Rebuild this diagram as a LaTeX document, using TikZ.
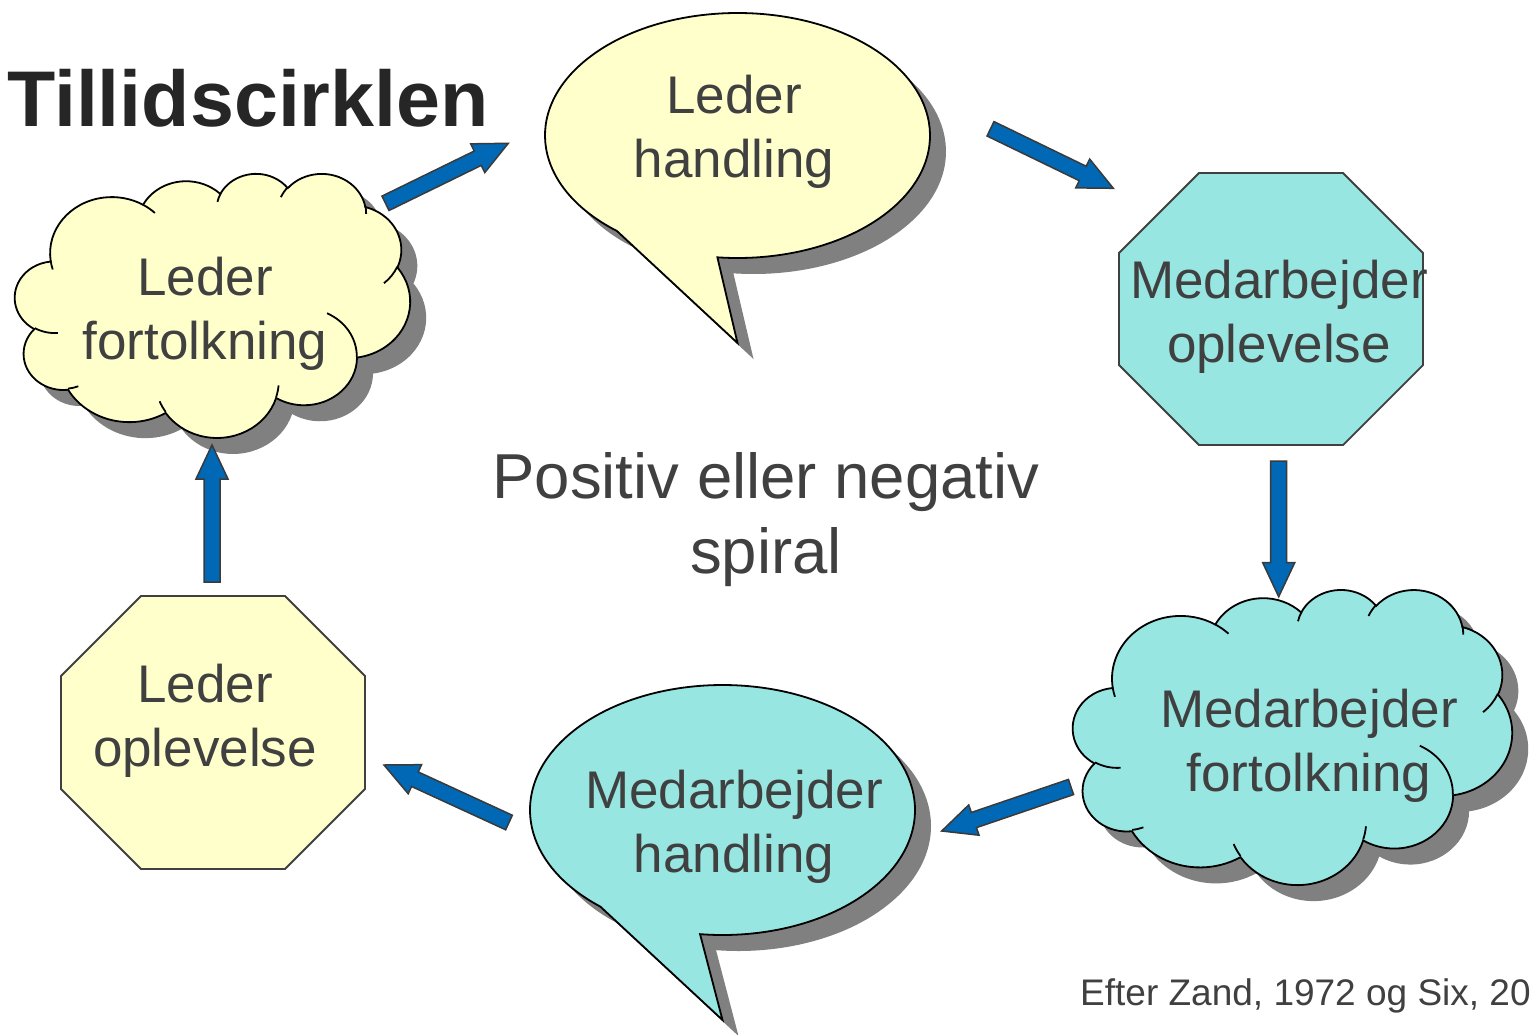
\documentclass[tikz,border=0pt]{standalone}
\usepackage{fontspec}
\setmainfont{Liberation Sans}
\usetikzlibrary{calc}
\definecolor{lyellow}{HTML}{FFFFCC}
\definecolor{lcyan}{HTML}{97E6E2}
\definecolor{shadowgray}{HTML}{808080}
\definecolor{arrowblue}{HTML}{0068B4}
\definecolor{arrowedge}{HTML}{3A3A3A}
\definecolor{txtgray}{HTML}{404040}
\definecolor{titlegray}{HTML}{262626}
\definecolor{octedge}{HTML}{404040}
% arc given in OOXML style: wR hR stAng swAng (visual angles, degrees)
\newcommand\ooarc[4]{%
  \pgfextra{%
    \pgfmathsetmacro\ooA{atan2((#1)*sin(#3),(#2)*cos(#3))}%
    \pgfmathsetmacro\ooB{atan2((#1)*sin((#3)+(#4)),(#2)*cos((#3)+(#4)))}%
    \pgfmathsetmacro\ooB{\ooB+360*(((#4)>0)&&(\ooB<\ooA))-360*(((#4)<0)&&(\ooB>\ooA))}%
    \global\let\ooA\ooA \global\let\ooB\ooB}%
  arc[start angle=\ooA, end angle=\ooB, x radius=#1, y radius=#2]}
\newcommand\cloudouter{(39,143.7)
  \ooarc{67.53}{91.90}{-190.4875}{123.7805}
  \ooarc{53.33}{72.67}{-144.1024}{89.9452}
  \ooarc{43.65}{59.45}{-145.8079}{99.7230}
  \ooarc{48.57}{65.95}{-130.9861}{117.2417}
  \ooarc{53.33}{72.73}{-78.7089}{109.0269}
  \ooarc{67.75}{92.20}{-46.2673}{130.2690}
  \ooarc{57.85}{78.67}{0.6250}{114.0333}
  \ooarc{67.52}{92.15}{22.4516}{115.1726}
  \ooarc{77.20}{105.43}{66.2426}{75.7110}
  \ooarc{43.60}{59.18}{-274.9421}{146.7356}
  \ooarc{43.45}{59.45}{-246.8285}{152.5189} -- cycle}
\newcommand\cloudinner{%
  (46.93,261.77) \ooarc{43.45}{59.45}{86.7420}{26.4295}
  (69.28,348.99) \ooarc{43.60}{59.18}{73.6105}{11.4475}
  (164.78,390.90) \ooarc{67.52}{92.15}{137.6242}{14.0811}
  (288.27,347.51) \ooarc{67.52}{92.15}{6.4533}{15.9984}
  (341.29,229.54) \ooarc{57.85}{78.67}{-70.2924}{70.9174}
  (417.98,153.54) \ooarc{53.33}{72.73}{30.3180}{27.7515}
  (383.24,54.26) \ooarc{48.57}{65.95}{-13.7443}{14.8589}
  (290.78,39.52) \ooarc{48.57}{65.95}{-149.1815}{18.1954}
  (221.41,47.20) \ooarc{43.65}{59.45}{-163.4943}{17.6864}
  (140.00,51.92) \ooarc{67.53}{91.90}{-66.7070}{12.3194}
  (41.27,157.89) \ooarc{67.53}{91.90}{157.6544}{11.8582}}
% speech bubble: cx cy rx ry a1 a2 tipdy
\newcommand\bubblepath[7]{(#1,#2+#7) -- ($(#1,#2)+(#5:#3 and #4)$)
  arc[start angle=#5,end angle=#6,x radius=#3,y radius=#4] -- cycle}
% block arrow between two named coordinates
\newcommand\barrow[2]{%
  \coordinate (#2-base) at ($(#2)!34pt!(#1)$);
  \filldraw[blockarrow] ($(#1)!8pt!90:(#2)$) -- ($(#2-base)!8pt!90:(#2)$)
    -- ($(#2-base)!16pt!90:(#2)$) -- (#2) -- ($(#2-base)!16pt!-90:(#2)$)
    -- ($(#2-base)!8pt!-90:(#2)$) -- ($(#1)!8pt!-90:(#2)$) -- cycle;}
\begin{document}
\begin{tikzpicture}[x=1pt,y=-1pt,
  shapeline/.style={draw=black, line width=1.8pt},
  shadowfill/.style={fill=shadowgray},
  octline/.style={draw=octedge, line width=1.8pt},
  blockarrow/.style={fill=arrowblue, draw=arrowedge, line width=1.5pt, line join=miter},
  lbltext/.style={text=txtgray, align=center, inner sep=0pt, font=\fontsize{53}{64}\selectfont}]
\useasboundingbox (0,0) rectangle (1530,1035);
\fill[white] (0,0) rectangle (1530,1035);

% --- cloud: Leder fortolkning
\begin{scope}[shift={(31,189)}, xscale=0.9144, yscale=0.6111]
  \fill[shadowfill] \cloudouter;
\end{scope}
\begin{scope}[shift={(15,173)}, xscale=0.9144, yscale=0.6111]
  \filldraw[fill=lyellow, shapeline] \cloudouter;
  \draw[shapeline] \cloudinner;
\end{scope}

% --- cloud: Medarbejder fortolkning
\begin{scope}[shift={(1089,605)}, xscale=1.0162, yscale=0.6829]
  \fill[shadowfill] \cloudouter;
\end{scope}
\begin{scope}[shift={(1073,589)}, xscale=1.0162, yscale=0.6829]
  \filldraw[fill=lcyan, shapeline] \cloudouter;
  \draw[shapeline] \cloudinner;
\end{scope}

% --- speech bubble: Leder handling
\begin{scope}[shift={(16,16)}]
  \fill[shadowfill] \bubblepath{737.5}{135.5}{192.5}{122.5}{128.8}{456}{207.5};
\end{scope}
\filldraw[fill=lyellow, shapeline] \bubblepath{737.5}{135.5}{192.5}{122.5}{128.8}{456}{207.5};

% --- speech bubble: Medarbejder handling
\begin{scope}[shift={(16,16)}]
  \fill[shadowfill] \bubblepath{722.5}{810}{192.5}{125}{129.4}{456.7}{210};
\end{scope}
\filldraw[fill=lcyan, shapeline] \bubblepath{722.5}{810}{192.5}{125}{129.4}{456.7}{210};

% --- octagons
\filldraw[fill=lcyan, octline] (1199,173) -- (1343,173) -- (1423,253) -- (1423,365)
  -- (1343,445) -- (1199,445) -- (1119,365) -- (1119,253) -- cycle;
\filldraw[fill=lyellow, octline] (141,596) -- (285,596) -- (365,676) -- (365,789)
  -- (285,869) -- (141,869) -- (61,789) -- (61,676) -- cycle;

% --- texts
\node[anchor=base west, inner sep=0pt, text=titlegray, font=\fontsize{79}{90}\selectfont\bfseries] (title) at (7,127) {Tillidscirklen};
\node[lbltext] (lf) at (205,313.6) {Leder\\fortolkning};
\node[lbltext] (lh) at (734,131.6) {Leder\\handling};
\node[lbltext] (mo) at (1279,316.6) {Medarbejder\\oplevelse};
\node[lbltext] (mf) at (1309,745.3) {Medarbejder\\fortolkning};
\node[lbltext] (mh) at (734,826.6) {Medarbejder\\handling};
\node[lbltext] (lo) at (205,720.3) {Leder\\oplevelse};
\node[text=txtgray, align=center, inner sep=0pt, font=\fontsize{63.5}{75}\selectfont] (spiral) at (766,519.3) {Positiv eller negativ\\spiral};
\node[anchor=base west, inner sep=0pt, text=txtgray, font=\fontsize{37}{44}\selectfont] (cite) at (1080,1005) {Efter Zand, 1972 og Six, 20};

% --- arrows
\coordinate (a1) at (385.5,203.3);  \coordinate (a2) at (508.3,143.3);
\coordinate (b1) at (990.5,128.8);  \coordinate (b2) at (1113.3,188.3);
\coordinate (c1) at (1278.7,461);   \coordinate (c2) at (1278.7,596.7);
\coordinate (d1) at (1071,787);     \coordinate (d2) at (941.7,831);
\coordinate (e1) at (509,822.5);    \coordinate (e2) at (384,765);
\coordinate (f1) at (212,582);      \coordinate (f2) at (212,445);
\barrow{a1}{a2}
\barrow{b1}{b2}
\barrow{c1}{c2}
\barrow{d1}{d2}
\barrow{e1}{e2}
\barrow{f1}{f2}
\end{tikzpicture}
\end{document}
